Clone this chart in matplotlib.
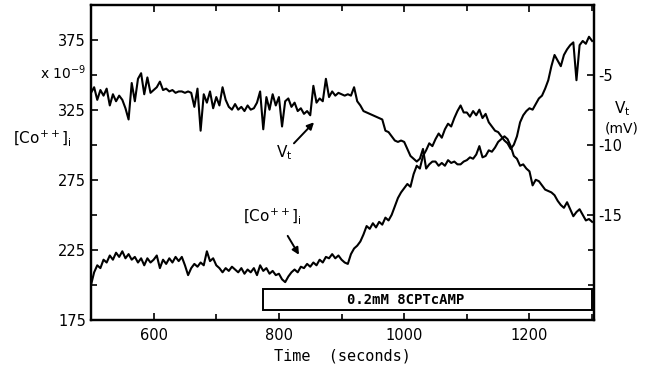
import numpy as np
import matplotlib
matplotlib.use("Agg")
import matplotlib.pyplot as plt
from matplotlib.ticker import FixedLocator

# sampling grid (seconds)
time_s = np.arange(500, 1301, 5)

# [Ca++]i trace (x 10^-9), left axis
ca_vals = [
    200, 209, 214, 212, 218, 216, 221, 218, 223, 220,   # 500-545
    224, 219, 222, 218, 220, 216, 219, 214, 219, 216,   # 550-595
    218, 221, 212, 218, 215, 219, 216, 220, 217, 220,   # 600-645
    214, 207, 212, 215, 213, 216, 214, 224, 217, 219,   # 650-695
    214, 212, 209, 212, 210, 213, 211, 209, 212, 208,   # 700-745
    211, 209, 212, 207, 214, 210, 212, 208, 210, 207,   # 750-795
    208, 204, 202, 206, 209, 211, 209, 213, 212, 215,   # 800-845
    213, 216, 214, 218, 216, 220, 219, 222, 219, 221,   # 850-895
    218, 216, 215, 222, 226, 228, 231, 236, 242, 240,   # 900-945
    244, 241, 245, 243, 248, 246, 250, 256, 262, 266,   # 950-995
    269, 272, 270, 279, 285, 283, 292, 296, 301, 299,   # 1000-1045
    304, 308, 305, 311, 315, 313, 319, 324, 328, 323,   # 1050-1095
    323, 320, 324, 321, 325, 319, 322, 316, 313, 310,   # 1100-1145
    309, 306, 303, 301, 297, 300, 306, 316, 321, 324,   # 1150-1195
    326, 325, 329, 333, 335, 340, 346, 356, 364, 360,   # 1200-1245
    356, 364, 368, 371, 373, 346, 371, 374, 372, 377,   # 1250-1295
    374,                                                # 1300
]

# Vt trace (mV), right axis
vt_vals = [
    -6.3, -5.9, -6.8, -6.1, -6.5, -6.0, -7.2, -6.4, -6.9, -6.5,
    -6.8, -7.4, -8.2, -5.6, -6.9, -5.3, -4.9, -6.4, -5.2, -6.3,
    -6.1, -5.9, -5.5, -6.1, -6.0, -6.2, -6.1, -6.3, -6.2, -6.2,
    -6.3, -6.2, -6.3, -7.3, -6.0, -9.0, -6.4, -7.0, -6.2, -7.4,
    -6.6, -7.2, -5.9, -6.8, -7.3, -7.5, -7.1, -7.5, -7.3, -7.6,
    -7.2, -7.5, -7.4, -7.0, -6.2, -8.9, -6.6, -7.5, -6.4, -7.2,
    -6.6, -8.7, -6.9, -6.7, -7.3, -7.0, -7.6, -7.4, -7.8, -7.6,
    -7.9, -5.8, -7.0, -6.7, -6.9, -5.3, -6.6, -6.2, -6.5, -6.3,
    -6.4, -6.5, -6.4, -6.5, -5.9, -6.9, -7.2, -7.6, -7.7, -7.8,
    -7.9, -8.0, -8.1, -8.2, -9.0, -9.1, -9.4, -9.7, -9.8, -9.7,
    -9.8, -10.3, -10.8, -11.0, -11.2, -11.0, -10.3, -11.7, -11.4, -11.2,
    -11.2, -11.5, -11.3, -11.5, -11.1, -11.3, -11.2, -11.4, -11.4, -11.2,
    -11.1, -10.9, -11.0, -10.7, -10.1, -10.9, -10.8, -10.4, -10.5, -10.2,
    -9.8, -9.6, -9.4, -9.6, -10.1, -10.8, -11.0, -11.5, -11.4, -11.7,
    -11.9, -12.9, -12.5, -12.6, -12.9, -13.2, -13.3, -13.4, -13.6, -14.0,
    -14.3, -14.5, -14.1, -14.6, -15.1, -14.8, -14.6, -15.0, -15.4, -15.3,
    -15.5,
]

x_major = [600, 800, 1000, 1200]
x_minor = [500, 700, 900, 1100, 1300]
ca_major = [175, 225, 275, 325, 375]
ca_minor = [200, 250, 300, 350]
vt_major = [-5, -10, -15]
vt_minor = [-7.5, -12.5, -17.5, -20]
vt_ticklabels = ["-5", "-10", "-15"]

drug_label = "0.2mM 8CPTcAMP"
drug_start, drug_end = 774, 1300

plt.rcParams['font.family'] = ['DejaVu Sans']

fig = plt.figure(figsize=(6.64, 3.72), dpi=100)
ax = fig.add_axes([91/664, 52/372, (594-91)/664, (320-4.5)/372])
ax2 = ax.twinx()

ax.plot(time_s, ca_vals, color='black', lw=1.5)
ax2.plot(time_s, vt_vals, color='black', lw=1.5)

ax.set_xlim(500, 1303)
ax.set_ylim(175, 400)
ax2.set_ylim(-22.5, 0)

for a in (ax, ax2):
    for s in a.spines.values():
        s.set_linewidth(1.6)
        s.set_color('black')

ax.xaxis.set_major_locator(FixedLocator(x_major))
ax.xaxis.set_minor_locator(FixedLocator(x_minor))
ax.yaxis.set_major_locator(FixedLocator(ca_major))
ax.yaxis.set_minor_locator(FixedLocator(ca_minor))
ax.tick_params(axis='both', which='both', direction='in', top=True,
               width=1.2, labelsize=10.5)
ax.tick_params(which='major', length=5)
ax.tick_params(which='minor', length=4)
ax.tick_params(axis='x', pad=6)

ax2.yaxis.set_major_locator(FixedLocator(vt_major))
ax2.set_yticklabels(vt_ticklabels)
ax2.yaxis.set_minor_locator(FixedLocator(vt_minor))
ax2.tick_params(axis='y', which='both', direction='in', width=1.2,
                labelsize=10.5, pad=3)
ax2.tick_params(which='major', length=5)
ax2.tick_params(which='minor', length=4)

ax.set_xlabel("Time  (seconds)", family='DejaVu Sans Mono', fontsize=11,
              labelpad=4)

# drug bar
ax.add_patch(plt.Rectangle((drug_start, 182), drug_end - drug_start, 15,
                           fill=False, lw=1.4, ec='black', zorder=3))
ax.text(1003, 189.5, drug_label, family='DejaVu Sans Mono',
        fontweight='bold', fontsize=10, ha='center', va='center')

# axis labels in figure coords
fig.text(63/664, 1 - 73/372, r"x 10$^{-9}$", fontsize=10, ha='center', va='center')
fig.text(42/664, 1 - 138/372, r"[Co$^{++}$]$_{\rm i}$", fontsize=11,
         ha='center', va='center')
fig.text(622/664, 1 - 109/372, r"V$_{\rm t}$", fontsize=11, ha='center', va='center')
fig.text(622/664, 1 - 129/372, "(mV)", fontsize=10, ha='center', va='center')

# in-plot annotations
arrow_kw = dict(arrowstyle='-|>', color='black', lw=1.4, shrinkA=0, shrinkB=0,
                mutation_scale=10)
ax.text(808, 294, r"V$_{\rm t}$", fontsize=11, ha='center', va='center')
ax.annotate("", xy=(856, 316), xytext=(824, 301), arrowprops=arrow_kw)
ax.text(789, 249, r"[Co$^{++}$]$_{\rm i}$", fontsize=11, ha='center', va='center')
ax.annotate("", xy=(832, 221.5), xytext=(814, 235), arrowprops=arrow_kw)

fig.savefig("out.png", dpi=100)
